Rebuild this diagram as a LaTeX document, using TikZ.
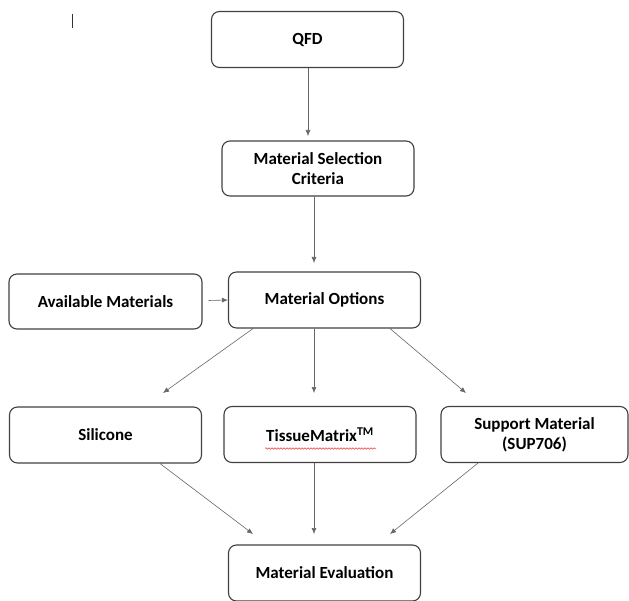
\documentclass[tikz,border=0pt]{standalone}
\usepackage{fontspec}
\setmainfont{Carlito}
\usetikzlibrary{arrows.meta,decorations.pathmorphing}
\tikzset{
  stage/.style={draw=black!75, line width=1.1pt, rounded corners=8pt,
    minimum width=192pt, minimum height=56pt, align=center,
    font=\bfseries\fontsize{17}{20}\selectfont},
  link/.style={draw=black!60, line width=0.6pt, -{Latex[length=6pt,width=5pt]}}
}
\begin{document}
\begin{tikzpicture}[x=1pt,y=-1pt]
            \useasboundingbox (0,0) rectangle (629,601);
            \draw[black!80, line width=1pt] (72,14) -- (72,28);

            \node[stage] (qfd) at (307.5,39.5) {QFD};
            \node[stage, minimum height=55pt] (criteria) at (318,168.5) {Material Selection\\Criteria};
            \node[stage] (options) at (324.5,300) {Material Options};
            \node[stage, minimum width=193pt, minimum height=55pt] (avail) at (105.5,301.5) {Available Materials};

            \node[stage] (silicone) at (105.5,435) {Silicone};
            \node[stage] (tissue) at (320,434.5) {TissueMatrix\textsuperscript{TM}};
            \node[stage, minimum width=187pt] (support) at (534.5,434.5) {Support Material\\(SUP706)};
            \node[stage] (evaluation) at (324.5,573) {Material Evaluation};

            \draw[red!80, line width=0.5pt, decoration={snake, amplitude=0.8pt, segment length=3pt}, decorate]
                (265,448.5) -- (376,448.5);

            \draw[link] (qfd.south -| 308,0) -- (308,136);
            \draw[link] (criteria.south -| 314,0) -- (314,263);
            \draw[link] (avail.east) ++(6,-1) -- (options.west);
            \draw[link] (options.south -| 253,0) -- (163,393);
            \draw[link] (options.south -| 314,0) -- (314,393);
            \draw[link] (options.south -| 390,0) -- (466,393);
            \draw[link] (silicone.south -| 160,0) -- (253,534);
            \draw[link] (tissue.south -| 314,0) -- (314,534);
            \draw[link] (support.south -| 478,0) -- (390,534);
        \end{tikzpicture}
\end{document}
